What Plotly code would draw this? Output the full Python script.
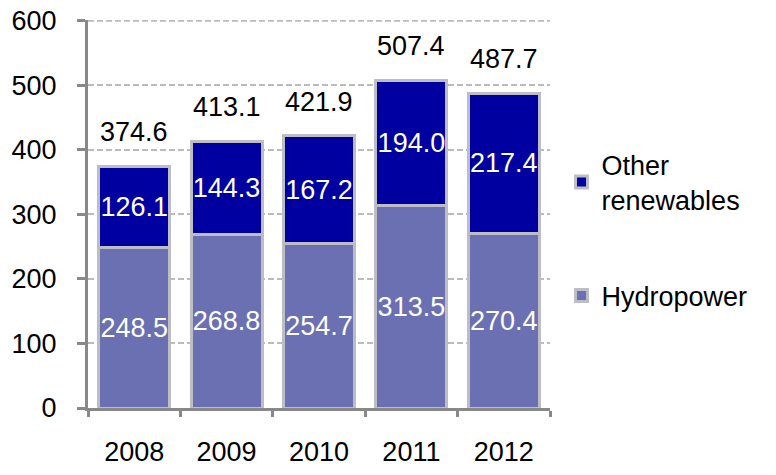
import plotly.graph_objects as go

years = ["2008", "2009", "2010", "2011", "2012"]
hydropower = [248.5, 268.8, 254.7, 313.5, 270.4]
other_renewables = [126.1, 144.3, 167.2, 194.0, 217.4]
totals = [374.6, 413.1, 421.9, 507.4, 487.7]
y_ticks = [0, 100, 200, 300, 400, 500, 600]

FONT = "Liberation Sans, Arial, sans-serif"
FS = 27
border = dict(color="#BDBDC6", width=3)
GRID = "#BBBBBB"
DASH = "6px,3px"

fig = go.Figure()
fig.add_trace(go.Bar(
    x=years, y=hydropower, name="Hydropower",
    marker=dict(color="#6B70B2", line=border),
    text=[f"{v:.1f}" for v in hydropower], textposition="inside",
    insidetextanchor="middle", textangle=0,
    textfont=dict(color="white", size=FS, family=FONT),
    legendgroup="b", legendrank=2, width=0.77,
))
fig.add_trace(go.Bar(
    x=years, y=other_renewables, name="Other<br>renewables",
    marker=dict(color="#0000A0", line=border),
    text=[f"{v:.1f}" for v in other_renewables], textposition="inside",
    insidetextanchor="middle", textangle=0,
    textfont=dict(color="white", size=FS, family=FONT),
    legendgroup="a", legendrank=1, width=0.77,
))

# category index positions for total labels above each stack
for i, tot in enumerate(totals):
    fig.add_annotation(
        x=i, y=tot, text=f"{tot:.1f}", showarrow=False,
        yanchor="bottom", yshift=17,
        font=dict(color="black", size=FS, family=FONT),
    )

# top gridline
fig.add_shape(
    type="line", xref="paper", x0=0, x1=1, yref="y", y0=y_ticks[-1], y1=y_ticks[-1],
    line=dict(color=GRID, width=2, dash=DASH), layer="below",
)

fig.update_layout(
    width=776, height=475,
    barmode="stack",
    paper_bgcolor="white", plot_bgcolor="white",
    margin=dict(l=80, r=234, t=12, b=75, autoexpand=False),
    font=dict(family=FONT, size=FS, color="black"),
    uniformtext=dict(mode="show", minsize=FS),
    legend=dict(
        x=1.025, y=0.69, xanchor="left", yanchor="top",
        traceorder="grouped", tracegroupgap=58,
        font=dict(size=FS, family=FONT), itemwidth=30,
        bgcolor="rgba(0,0,0,0)",
    ),
    showlegend=True,
)
fig.update_yaxes(
    range=[y_ticks[0], y_ticks[-1] + 1], tickvals=y_ticks, automargin=False,
    ticklabeloverflow="allow",
    showgrid=True, gridcolor=GRID, griddash=DASH, gridwidth=2,
    showline=True, linecolor="#888888", linewidth=3,
    ticks="outside", ticklen=8, tickwidth=3, tickcolor="#888888",
    ticklabelstandoff=15,
    tickfont=dict(size=FS, family=FONT),
    zeroline=False,
)
fig.update_xaxes(
    type="category", range=[-0.5, len(years) - 0.5], automargin=False,
    showline=True, linecolor="#888888", linewidth=3,
    ticks="outside", tickson="boundaries", ticklen=6, tickwidth=3, tickcolor="#888888",
    ticklabelstandoff=18, tickangle=0,
    tickfont=dict(size=FS, family=FONT),
)

fig.write_html("out.html")
